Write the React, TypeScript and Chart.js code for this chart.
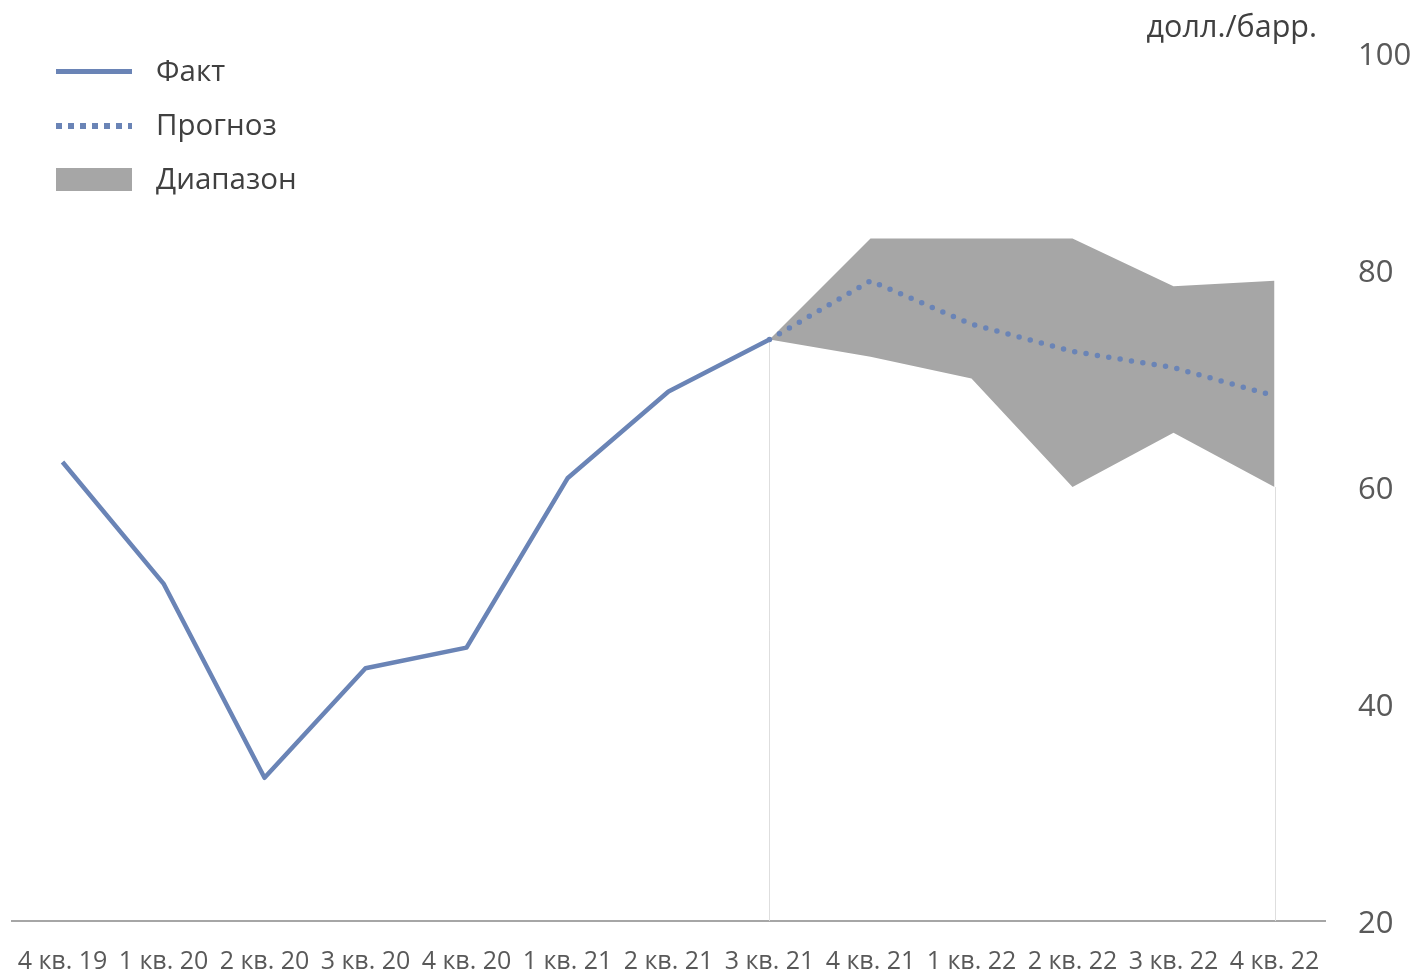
import React, { useEffect, useRef } from "react";
import { Chart, registerables } from "chart.js";

Chart.register(...registerables);

const categories = [
  "4 кв. 19", "1 кв. 20", "2 кв. 20", "3 кв. 20", "4 кв. 20",
  "1 кв. 21", "2 кв. 21", "3 кв. 21", "4 кв. 21",
  "1 кв. 22", "2 кв. 22", "3 кв. 22", "4 кв. 22",
];
const factValues = [62.3, 51.1, 33.2, 43.3, 45.2, 60.8, 68.8, 73.6, null, null, null, null, null];
const forecastValues = [null, null, null, null, null, null, null, 73.6, 79.0, 75.0, 72.5, 71.0, 68.4];
const rangeLow = [null, null, null, null, null, null, null, 73.6, 72.0, 70.0, 60.0, 65.0, 60.0];
const rangeHigh = [null, null, null, null, null, null, null, 73.6, 82.9, 82.9, 82.9, 78.5, 79.0];
const yTicks = [20, 40, 60, 80, 100];
const legendLabels = ["Факт", "Прогноз", "Диапазон"];
const unitLabel = "долл./барр.";

const LINE_COLOR = "#6a84b6";
const RANGE_COLOR = "#a6a6a6";
const FONT = "'Open Sans', 'Noto Sans', sans-serif";

const dropLines = {
  id: "dropLines",
  beforeDatasetsDraw(chart: any) {
    const meta = chart.getDatasetMeta(0);
    const { ctx, chartArea } = chart;
    const idx: number[] = [];
    rangeLow.forEach((v, i) => { if (v !== null) idx.push(i); });
    if (!idx.length) return;
    const ends = [idx[0], idx[idx.length - 1]];
    ctx.save();
    ctx.strokeStyle = "#dedede";
    ctx.lineWidth = 1;
    ends.forEach((i) => {
      const pt = meta.data[i];
      if (!pt) return;
      const x = Math.round(pt.x) + 0.5;
      ctx.beginPath();
      ctx.moveTo(x, pt.y);
      ctx.lineTo(x, chartArea.bottom);
      ctx.stroke();
    });
    ctx.restore();
  },
};

export default function App() {
  const canvasRef = useRef<HTMLCanvasElement | null>(null);

  useEffect(() => {
    if (!canvasRef.current) return;
    const chart = new Chart(canvasRef.current, {
      type: "line",
      data: {
        labels: categories,
        datasets: [
          {
            label: "Диапазон (низ)",
            data: rangeLow as any,
            borderWidth: 0,
            borderColor: "rgba(0,0,0,0)",
            pointRadius: 0,
            fill: false,
            order: 3,
          },
          {
            label: legendLabels[2],
            data: rangeHigh as any,
            borderWidth: 0,
            borderColor: "rgba(0,0,0,0)",
            backgroundColor: RANGE_COLOR,
            pointRadius: 0,
            fill: "-1",
            order: 2,
          },
          {
            label: legendLabels[1],
            data: forecastValues as any,
            borderColor: LINE_COLOR,
            borderWidth: 5.5,
            borderDash: [0, 11.5],
            borderCapStyle: "round",
            pointRadius: 0,
            fill: false,
            order: 1,
          },
          {
            label: legendLabels[0],
            data: factValues as any,
            borderColor: LINE_COLOR,
            borderWidth: 4.5,
            borderJoinStyle: "round",
            pointRadius: 0,
            fill: false,
            order: 0,
          },
        ],
      },
      options: {
        animation: false,
        responsive: false,
        maintainAspectRatio: false,
        layout: { padding: { left: 12, top: 53, right: 0, bottom: 0 } },
        plugins: {
          legend: { display: false },
          tooltip: { enabled: false },
          filler: { drawTime: "beforeDatasetsDraw" } as any,
        },
        scales: {
          x: {
            offset: true,
            grid: { display: false, drawTicks: false },
            border: { display: true, color: "#a6a6a6", width: 2 },
            ticks: {
              autoSkip: false,
              maxRotation: 0,
              minRotation: 0,
              padding: 26,
              color: "#595959",
              font: { family: FONT, size: 25 },
            },
            afterFit: (s: any) => {
              s.height = 54;
              s.paddingLeft = 0;
              s.paddingRight = 0;
            },
          },
          y: {
            position: "right",
            min: 20,
            max: 100,
            afterBuildTicks: (s: any) => { s.ticks = yTicks.map((v) => ({ value: v })); },
            grid: { display: false, drawTicks: false },
            border: { display: false },
            ticks: {
              padding: 33,
              labelOffset: 3,
              color: "#595959",
              font: { family: FONT, size: 31 },
            },
            afterFit: (s: any) => { s.width = 94; },
          },
        },
      },
      plugins: [dropLines],
    });
    return () => chart.destroy();
  }, []);

  const textStyle: React.CSSProperties = {
    position: "absolute",
    left: 156,
    fontFamily: FONT,
    fontSize: 29.5,
    lineHeight: "36px",
    color: "#404040",
    whiteSpace: "nowrap",
  };

  return (
    <div style={{ position: "absolute", left: 0, top: 0, width: 1419, height: 975, background: "#fff" }}>
      <canvas ref={canvasRef} width={1419} height={975} style={{ display: "block", width: 1419, height: 975 }} />
      <div style={{ position: "absolute", left: 56, top: 69, width: 76, height: 5, background: LINE_COLOR }} />
      <div style={{ ...textStyle, top: 70 - 18 }}>{legendLabels[0]}</div>
      <div
        style={{
          position: "absolute", left: 56, top: 123, width: 76, height: 6,
          background: `repeating-linear-gradient(to right, ${LINE_COLOR} 0px, ${LINE_COLOR} 6px, transparent 6px, transparent 12px)`,
        }}
      />
      <div style={{ ...textStyle, top: 124 - 18 }}>{legendLabels[1]}</div>
      <div style={{ position: "absolute", left: 56, top: 168, width: 76, height: 23, background: RANGE_COLOR }} />
      <div style={{ ...textStyle, top: 178 - 18 }}>{legendLabels[2]}</div>
      <div
        style={{
          position: "absolute", right: 102, top: 7, fontFamily: FONT, fontSize: 30.5,
          lineHeight: "36px", color: "#404040", whiteSpace: "nowrap",
        }}
      >
        {unitLabel}
      </div>
    </div>
  );
}
